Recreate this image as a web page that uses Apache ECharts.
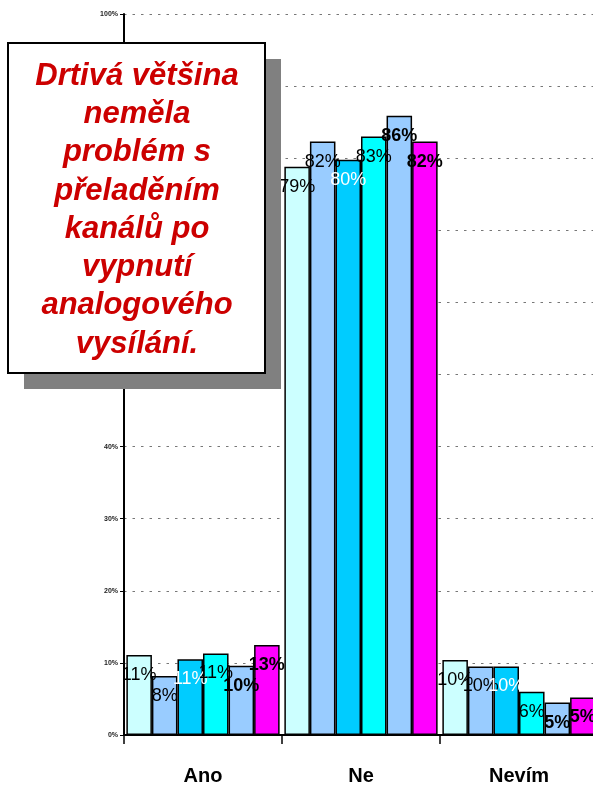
<!DOCTYPE html>
<html>
<head>
<meta charset="utf-8">
<script src="https://cdn.jsdelivr.net/npm/echarts@6/dist/echarts.min.js"></script>
<style>
  html, body { margin: 0; padding: 0; background: #fff; overflow: hidden; }
  /* chart is a bit wider than the window: the last group is cut at the right edge */
  #chart { width: 598px; height: 788px; }
</style>
</head>
<body>
<div id="chart"></div>
<script>
// categories and values (percent)
var categories = ['Ano', 'Ne', 'Nevím'];
var s1 = [11.1, 78.8, 10.4];
var s2 = [8.2, 82.3, 9.5];
var s3 = [10.5, 79.8, 9.5];
var s4 = [11.3, 83.0, 6.0];
var s5 = [9.6, 85.9, 4.5];
var s6 = [12.5, 82.3, 5.2];
var seriesNames = ['1', '2', '3', '4', '5', '6'];
var yTicks = [0, 10, 20, 30, 40, 50, 60, 70, 80, 90, 100];
var boxText = 'Drtivá většina\nneměla\nproblém s\npřeladěním\nkanálů po\nvypnutí\nanalogového\nvysílání.';

var colors = ['#CCFFFF', '#99CCFF', '#00CCFF', '#00FFFF', '#99CCFF', '#FF00FF'];
var labelColors = ['#000', '#000', '#fff', '#000', '#000', '#000'];
var labelWeights = ['normal', 'normal', 'normal', 'normal', 'bold', 'bold'];

var myChart = echarts.init(document.getElementById('chart'));

var series = [s1, s2, s3, s4, s5, s6].map(function (vals, i) {
    return {
        name: seriesNames[i],
        type: 'bar',
        data: vals,
        barGap: '0%',
        barCategoryGap: '3%',
        itemStyle: { color: colors[i], borderColor: '#000', borderWidth: 1.5 },
        label: {
            show: true,
            position: 'insideTop',
            distance: 11,
            color: labelColors[i],
            fontWeight: labelWeights[i],
            fontSize: 18,
            fontFamily: 'Liberation Sans',
            formatter: function (p) { return Math.round(p.value) + '%'; }
        }
    };
});

var option = {
    animation: false,
    grid: { left: 124, right: 0, top: 14, bottom: 53 },
    xAxis: {
        type: 'category',
        data: categories,
        axisLine: { lineStyle: { color: '#000', width: 2 } },
        axisTick: { show: true, length: 9, lineStyle: { color: '#000', width: 1.5 } },
        axisLabel: {
            margin: 31,
            color: '#000',
            fontSize: 20,
            fontWeight: 'bold',
            fontFamily: 'Liberation Sans'
        }
    },
    yAxis: {
        type: 'value',
        min: yTicks[0],
        max: yTicks[yTicks.length - 1],
        interval: 10,
        axisLine: { show: true, lineStyle: { color: '#000', width: 2 } },
        axisTick: { show: true, length: 4, lineStyle: { color: '#000' } },
        axisLabel: {
            formatter: '{value}%',
            fontSize: 7,
            fontWeight: 'bold',
            color: '#222',
            margin: 6,
            fontFamily: 'Liberation Sans'
        },
        splitLine: { show: true, lineStyle: { color: '#777', type: [2.5, 6], width: 1 } }
    },
    series: series,
    graphic: [
        {
            type: 'rect',
            shape: { x: 24, y: 59, width: 257, height: 330 },
            style: { fill: '#808080' },
            z: 100
        },
        {
            type: 'rect',
            shape: { x: 8, y: 43, width: 257, height: 330 },
            style: { fill: '#fff', stroke: '#000', lineWidth: 2 },
            z: 101
        },
        {
            type: 'text',
            x: 137,
            y: 57,
            z: 102,
            style: {
                text: boxText,
                fill: '#CC0000',
                font: 'italic bold 31px "Liberation Sans"',
                textAlign: 'center',
                textVerticalAlign: 'top',
                lineHeight: 38.3
            }
        }
    ]
};

myChart.setOption(option);
</script>
</body>
</html>
